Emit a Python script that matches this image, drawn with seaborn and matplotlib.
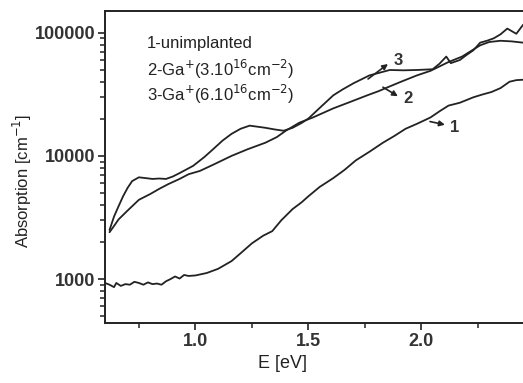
import numpy as np
import pandas as pd
import matplotlib
matplotlib.use("Agg")
import matplotlib.pyplot as plt
import seaborn as sns
from matplotlib.ticker import LogLocator, FixedLocator, NullFormatter

# ---- data ----
e1 = [0.60, 0.62, 0.64, 0.65, 0.67, 0.69, 0.71, 0.73, 0.75, 0.77, 0.79, 0.81, 0.83, 0.85,
      0.87, 0.89, 0.91, 0.93, 0.95, 0.97, 1.00, 1.05, 1.10, 1.16, 1.20, 1.25, 1.30, 1.34,
      1.38, 1.43, 1.47, 1.50, 1.55, 1.61, 1.66, 1.71, 1.77, 1.83, 1.88, 1.93, 1.98, 2.04,
      2.08, 2.12, 2.17, 2.23, 2.27, 2.31, 2.35, 2.39, 2.42, 2.45]
a1 = [930, 900, 860, 930, 880, 910, 900, 950, 930, 900, 940, 910, 920, 900,
      960, 1000, 1050, 1010, 1080, 1060, 1070, 1120, 1210, 1400, 1620, 1950, 2250, 2450,
      3000, 3700, 4200, 4700, 5600, 6600, 7700, 9200, 10800, 12800, 14500, 16600, 18200, 20500,
      23000, 25600, 27000, 29900, 31500, 33000, 35500, 40000, 41200, 41500]

e2 = [0.62, 0.64, 0.66, 0.70, 0.75, 0.80, 0.84, 0.88, 0.93, 0.97, 1.02, 1.08, 1.16, 1.23,
      1.31, 1.36, 1.40, 1.46, 1.52, 1.61, 1.68, 1.76, 1.81, 1.85, 1.91, 1.98, 2.04, 2.12,
      2.18, 2.26, 2.30, 2.35, 2.40, 2.45]
a2 = [2400, 2700, 3050, 3600, 4400, 4900, 5400, 5900, 6500, 7100, 7550, 8500, 10000, 11300,
      12800, 14200, 16000, 18600, 20500, 24300, 27200, 31000, 33500, 36000, 40000, 45000, 49000, 57800,
      64000, 79000, 84000, 86000, 85000, 83000]

e3 = [0.62, 0.64, 0.66, 0.68, 0.70, 0.72, 0.75, 0.78, 0.81, 0.84, 0.87, 0.90, 0.93, 0.99,
      1.04, 1.08, 1.12, 1.16, 1.20, 1.24, 1.28, 1.31, 1.35, 1.39, 1.43, 1.47, 1.50, 1.55,
      1.61, 1.65, 1.70, 1.77, 1.86, 1.92, 1.98, 2.05, 2.08, 2.11, 2.13, 2.17, 2.20, 2.23,
      2.26, 2.29, 2.32, 2.35, 2.38, 2.42, 2.45]
a3 = [2500, 3220, 3900, 4700, 5500, 6240, 6700, 6600, 6500, 6550, 6500, 6800, 7250, 8300,
      9800, 11400, 13300, 15100, 16600, 17600, 17200, 16900, 16400, 16000, 16900, 18500, 20100, 24500,
      31000, 34500, 38900, 45000, 49800, 49500, 49800, 50500, 56000, 64000, 56600, 60000, 66000, 72000,
      83000, 86000, 90000, 97000, 108000, 98000, 116000]

series_names = ["1-unimplanted",
                "2-Ga$^{+}$(3.10$^{16}$cm$^{-2}$)",
                "3-Ga$^{+}$(6.10$^{16}$cm$^{-2}$)"]
curve_labels = ["1", "2", "3"]
xtick_labels = ["1.0", "1.5", "2.0"]
ytick_labels = ["1000", "10000", "100000"]

df = pd.concat([
    pd.DataFrame({"E": e1, "A": a1, "s": "1"}),
    pd.DataFrame({"E": e2, "A": a2, "s": "2"}),
    pd.DataFrame({"E": e3, "A": a3, "s": "3"}),
])

sns.set_theme(style="ticks")
plt.rcParams["font.family"] = ["Liberation Sans", "DejaVu Sans"]

W, H = 523, 383
fig = plt.figure(figsize=(W / 100, H / 100), dpi=100)
ax = fig.add_axes([105 / W, 1 - 323 / H, (2.5 - 0.6) * 226 / W, (323 - 11) / H])

col = "#222222"
sns.lineplot(data=df, x="E", y="A", units="s", estimator=None, color=col,
             linewidth=1.3, ax=ax, legend=False, sort=False)

ax.set_yscale("log")
ax.set_xlim(0.6, 2.5)
ax.set_ylim(440, 150000)

ax.xaxis.set_major_locator(FixedLocator([1.0, 1.5, 2.0]))
ax.set_xticklabels(xtick_labels)
ax.xaxis.set_minor_locator(FixedLocator([0.75, 1.25, 1.75, 2.25]))
ax.yaxis.set_major_locator(FixedLocator([1000, 10000, 100000]))
ax.set_yticklabels(ytick_labels)
ax.yaxis.set_minor_locator(LogLocator(base=10, subs=np.arange(2, 10)))
ax.yaxis.set_minor_formatter(NullFormatter())

ax.tick_params(axis="both", which="major", direction="out", length=5, width=1.2,
               color=col, labelsize=13, labelcolor="#333333", pad=2)
ax.tick_params(axis="both", which="minor", direction="out", length=3.5, width=1.1, color=col)
for t in ax.get_xticklabels() + ax.get_yticklabels():
    t.set_fontweight("bold")
for sp in ax.spines.values():
    sp.set_color(col)
    sp.set_linewidth(1.4)

ax_w = (2.5 - 0.6) * 226
ax_h = 323 - 11
ax.set_xlabel("E [eV]", fontsize=13, color="#222222")
ax.set_ylabel("Absorption [cm$^{-1}$]", fontsize=12, color="#222222")
ax.xaxis.set_label_coords((283 - 105) / ax_w, -(355 - 323) / ax_h)
ax.yaxis.set_label_coords(-(105 - 34) / ax_w, 0.5 - 14 / ax_h)

# in-plot legend text
for i, name in enumerate(series_names):
    ax.text(0.785, 81000 / (1.6 ** i), name, fontsize=12, color="#222222", va="center")

# curve labels with arrows: (tail on curve, arrow head, label position)
arrows = [((2.038, 19000), (2.104, 17900), (2.125, 16900)),
          ((1.830, 36100), (1.896, 30500), (1.920, 29300)),
          ((1.764, 42100), (1.852, 55700), (1.875, 59000))]
for lab, (tail, head, txt) in zip(curve_labels, arrows):
    ax.annotate("", xy=head, xytext=tail,
                arrowprops=dict(arrowstyle="-|>", color=col, lw=1.2, mutation_scale=8,
                                shrinkA=0, shrinkB=0))
    ax.text(txt[0], txt[1], lab, fontsize=12, fontweight="bold", color="#333333",
            va="center", ha="left")

fig.savefig("out.png", dpi=100)
